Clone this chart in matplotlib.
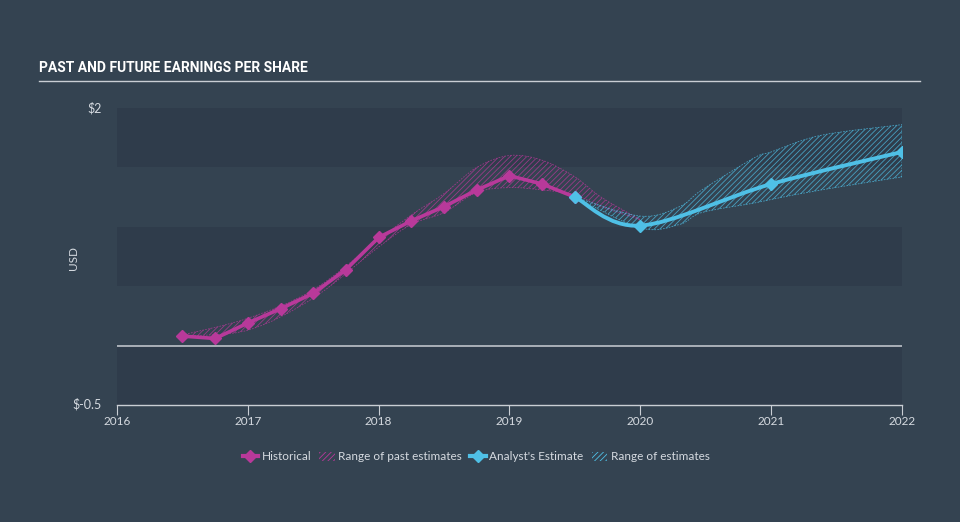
import matplotlib
matplotlib.use("Agg")
import matplotlib.pyplot as plt
import numpy as np
from matplotlib.path import Path
from matplotlib.patches import PathPatch, Patch
from matplotlib.lines import Line2D

# ---- data ----
hist_x = [2016.5, 2016.75, 2017.0, 2017.25, 2017.5, 2017.75, 2018.0,
          2018.25, 2018.5, 2018.75, 2019.0, 2019.25, 2019.5]
hist_y = [0.08, 0.06, 0.19, 0.31, 0.44, 0.64, 0.91,
          1.05, 1.17, 1.31, 1.43, 1.36, 1.25]

past_x = [2016.5, 2017.0, 2017.5, 2018.0, 2018.25, 2018.5, 2018.75,
          2019.0, 2019.25, 2019.5, 2019.7, 2020.0]
past_hi = [0.09, 0.23, 0.47, 0.89, 1.10, 1.28, 1.50, 1.60, 1.56, 1.42, 1.25, 1.06]
past_lo = [0.08, 0.13, 0.40, 0.83, 1.02, 1.12, 1.29, 1.33, 1.31, 1.27, 1.17, 1.06]

est_x = [2019.5, 2020.0, 2021.0, 2022.0]
est_y = [1.25, 1.01, 1.36, 1.63]

fut_x = [2019.5, 2020.0, 2020.3, 2020.47, 2020.87, 2021.0, 2021.38, 2022.0]
fut_hi = [1.25, 1.09, 1.17, 1.31, 1.58, 1.63, 1.77, 1.86]
fut_lo = [1.25, 0.99, 1.02, 1.12, 1.20, 1.23, 1.31, 1.42]

x_ticks = [2016, 2017, 2018, 2019, 2020, 2021, 2022]
y_min, y_max = -0.5, 2.0

BG = "#344351"
BAND_DARK = "#2f3c4b"
MAGENTA = "#b8399a"
BLUE = "#4fc0e6"
TEXT = "#d5dae0"
AXIS = "#c9ced4"


def bezier_segments(xs, ys):
    p = np.column_stack([xs, ys]).astype(float)
    n = len(p)
    verts = []
    for i in range(n - 1):
        p0 = p[i - 1] if i > 0 else p[i]
        p1, p2 = p[i], p[i + 1]
        p3 = p[i + 2] if i + 2 < n else p[i + 1]
        verts += [p1 + (p2 - p0) / 6, p2 - (p3 - p1) / 6, p2]
    return verts


def smooth_line(xs, ys):
    verts = [(xs[0], ys[0])] + bezier_segments(xs, ys)
    codes = [Path.MOVETO] + [Path.CURVE4] * (len(verts) - 1)
    return Path(verts, codes)


def smooth_band(xs, hi, lo):
    up = bezier_segments(xs, hi)
    dn = bezier_segments(xs[::-1], lo[::-1])
    verts = [(xs[0], hi[0])] + up + [(xs[-1], lo[-1])] + dn + [(xs[0], hi[0])]
    codes = ([Path.MOVETO] + [Path.CURVE4] * len(up) + [Path.LINETO]
             + [Path.CURVE4] * len(dn) + [Path.CLOSEPOLY])
    return Path(verts, codes)


plt.rcParams["hatch.linewidth"] = 0.6
fig = plt.figure(figsize=(9.6, 5.22), dpi=100, facecolor=BG)
ax = fig.add_axes([117 / 960, 117 / 522, 785 / 960, 297 / 522])
ax.set_facecolor(BG)

# alternating horizontal bands (darker every other half unit)
levels = np.arange(y_min, y_max, 0.5)
for i, lv in enumerate(levels):
    if i % 2 == 0:
        ax.axhspan(lv, lv + 0.5, color=BAND_DARK, lw=0, zorder=0)
ax.axhline(0, color=AXIS, lw=1.1, zorder=1)

# ranges
ax.add_patch(PathPatch(smooth_band(past_x, past_hi, past_lo), facecolor="none",
                       edgecolor=MAGENTA, hatch="//////", lw=0.6, ls=(0, (2, 1.5)),
                       alpha=0.75, zorder=2))
ax.add_patch(PathPatch(smooth_band(fut_x, fut_hi, fut_lo), facecolor="none",
                       edgecolor=BLUE, hatch="//////", lw=0.6, ls=(0, (2, 1.5)),
                       alpha=0.75, zorder=2))

# lines
ax.plot(hist_x, hist_y, color=MAGENTA, lw=2.6, marker="D", ms=6,
        solid_capstyle="round", zorder=4)
ax.add_patch(PathPatch(smooth_line(est_x, est_y), facecolor="none",
                       edgecolor=BLUE, lw=2.8, capstyle="round", zorder=4))
ax.plot(est_x, est_y, ls="none", marker="D", ms=6, color=BLUE, zorder=5)

ax.set_xlim(2016, 2022)
ax.set_ylim(y_min, y_max)
ax.set_xticks(x_ticks)
ax.set_xticklabels([str(t) for t in x_ticks], fontsize=8.5, color=TEXT,
                   family="Lato")
ax.set_yticks([])
for s in ["top", "right", "left"]:
    ax.spines[s].set_visible(False)
ax.spines["bottom"].set_color(AXIS)
ax.spines["bottom"].set_linewidth(1)
ax.tick_params(axis="x", direction="out", length=7, color=AXIS, pad=1)

fig.text(102 / 960, 1 - 108 / 522, "$2", ha="right", va="center",
         fontsize=9, color=TEXT, family="Lato")
fig.text(102 / 960, 1 - 404 / 522, "$-0.5", ha="right", va="center",
         fontsize=9, color=TEXT, family="Lato")
fig.text(73 / 960, 1 - 258 / 522, "USD", rotation=90, ha="center", va="center",
         fontsize=8.5, color=TEXT, family="Lato")

# title
fig.text(39 / 960, 1 - 68 / 522, "PAST AND FUTURE EARNINGS PER SHARE",
         ha="left", va="center", fontsize=10, fontweight="bold",
         color="white", family="Roboto")
fig.add_artist(Line2D([39 / 960, 920 / 960], [1 - 81 / 522, 1 - 81 / 522],
                      transform=fig.transFigure, color=AXIS, lw=1))

# legend
handles = [
    Line2D([], [], color=MAGENTA, lw=3, marker="D", ms=6),
    Patch(facecolor="none", edgecolor=MAGENTA, hatch="//////", lw=0),
    Line2D([], [], color=BLUE, lw=3, marker="D", ms=6),
    Patch(facecolor="none", edgecolor=BLUE, hatch="//////", lw=0),
]
labels = ["Historical", "Range of past estimates", "Analyst's Estimate",
          "Range of estimates"]
leg = fig.legend(handles, labels, loc="center", bbox_to_anchor=(476 / 960, 1 - 457 / 522),
                 ncol=4, frameon=False, handlelength=1.3,
                 handletextpad=0.3, columnspacing=0.7, prop={"family": "Lato", "size": 8.5})
for t in leg.get_texts():
    t.set_color(TEXT)

fig.savefig("out.png", dpi=100, facecolor=BG)
